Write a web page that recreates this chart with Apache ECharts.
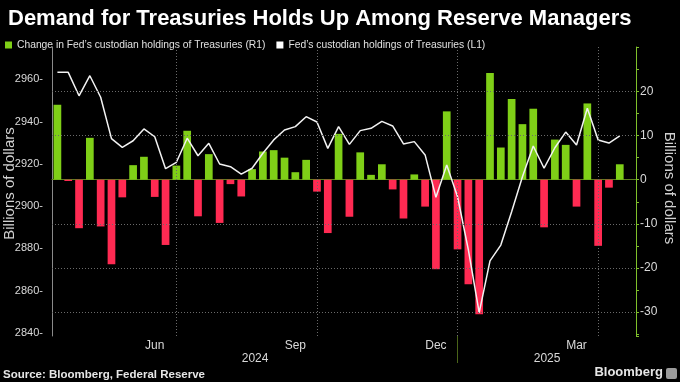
<!DOCTYPE html>
<html><head><meta charset="utf-8">
<script src="https://cdn.jsdelivr.net/npm/echarts@6/dist/echarts.min.js"></script>
<style>html,body{margin:0;padding:0;background:#000}#c{width:680px;height:382px}</style>
</head><body><div id="c"></div>
<script>
// Weekly observation dates (last entry is an empty padding slot on the right)
const weeks = ['2024-04-17','2024-04-24','2024-05-01','2024-05-08','2024-05-15','2024-05-22','2024-05-29','2024-06-05','2024-06-12','2024-06-19','2024-06-26','2024-07-03','2024-07-10','2024-07-17','2024-07-24','2024-07-31','2024-08-07','2024-08-14','2024-08-21','2024-08-28','2024-09-04','2024-09-11','2024-09-18','2024-09-25','2024-10-02','2024-10-09','2024-10-16','2024-10-23','2024-10-30','2024-11-06','2024-11-13','2024-11-20','2024-11-27','2024-12-04','2024-12-11','2024-12-18','2024-12-25','2025-01-01','2025-01-08','2025-01-15','2025-01-22','2025-01-29','2025-02-05','2025-02-12','2025-02-19','2025-02-26','2025-03-05','2025-03-12','2025-03-19','2025-03-26','2025-04-02','2025-04-09','2025-04-16','2025-04-23'];
// Change in Fed's custodian holdings of Treasuries (R1), billions
const changes = [17.0,-0.3,-11.0,9.5,-10.6,-19.2,-4.0,3.3,5.2,-3.9,-14.8,3.2,11.1,-8.3,5.8,-9.8,-1.0,-3.8,2.4,6.4,6.7,5.0,1.7,4.5,-2.7,-12.1,10.4,-8.4,6.2,1.1,3.5,-2.2,-8.8,1.2,-6.1,-20.3,15.5,-15.8,-23.7,-30.5,24.2,7.3,18.3,12.6,16.1,-10.8,9.1,7.9,-6.1,17.3,-15.0,-1.8,3.5];
// Fed's custodian holdings of Treasuries (L1), billions
const holdings = [2963.3,2963.3,2952.2,2961.7,2951.5,2931.9,2927.8,2930.9,2936.5,2932.8,2917.7,2920.7,2932.1,2923.8,2929.7,2919.9,2918.6,2915.1,2917.9,2925.0,2931.3,2936.0,2937.6,2942.3,2939.8,2927.3,2937.6,2929.2,2935.7,2936.8,2940.1,2937.9,2929.4,2930.5,2924.2,2904.1,2919.4,2904.4,2879.2,2849.5,2874.0,2881.5,2897.3,2913.9,2928.4,2917.9,2927.6,2935.0,2928.9,2946.3,2931.3,2929.8,2933.2];
const monthLabels = ['Jun','Sep','Dec','Mar'];
const yearLabels = ['2024','2025'];
const leftTicks = [2840,2860,2880,2900,2920,2940,2960];
const rightTicks = [-30,-20,-10,0,10,20];
const gridValues = [20,10,-10,-20,-30];

const FONT = "'Liberation Sans', Arial, sans-serif";
const NARROW = "'Liberation Sans Narrow', 'Arial Narrow', 'Liberation Sans', sans-serif";
const GREEN = '#7fcf17', RED = '#ff2a52';
const MN = {Jan:'01',Feb:'02',Mar:'03',Apr:'04',May:'05',Jun:'06',Jul:'07',Aug:'08',Sep:'09',Oct:'10',Nov:'11',Dec:'12'};
const mon = d => d.slice(5,7);
const isFirst = weeks.map((d,i) => i > 0 && mon(d) !== mon(weeks[i-1]));
const firstIdx = isFirst.map((f,i)=>f?i:-1).filter(i=>i>=0);
const labelIdx = {};
monthLabels.forEach(m => {
  const i1 = firstIdx.find(i => mon(weeks[i]) === MN[m]);
  const i2 = firstIdx.find(i => i > i1);
  labelIdx[Math.round((i1 + i2) / 2)] = m;
});
const quarterStarts = firstIdx.filter(i => ['01','04','07','10'].includes(mon(weeks[i])));
const yearStart = weeks.findIndex(d => d.slice(0,4) === yearLabels[1]);
const yearIdx = {};
yearIdx[Math.floor((yearStart - 0.5) / 2)] = yearLabels[0];
yearIdx[Math.floor((yearStart + weeks.length - 0.5) / 2)] = yearLabels[1];

const near = (v, arr) => arr.some(t => Math.abs(v - t) < 1e-6);

const chart = echarts.init(document.getElementById('c'));
chart.setOption({
  backgroundColor: '#000',
  animation: false,
  title: {
    text: 'Demand for Treasuries Holds Up Among Reserve Managers',
    left: 3, top: 3,
    textStyle: {color: '#fff', fontFamily: FONT, fontWeight: 'bold', fontSize: 22}
  },
  legend: {
    left: 5, top: 40, padding: 0, itemWidth: 7, itemHeight: 7, itemGap: 11,
    textStyle: {color: '#e0e0e0', fontFamily: FONT, fontSize: 10.3},
    data: [
      {name: "Change in Fed’s custodian holdings of Treasuries (R1)", icon: 'rect', itemStyle: {color: GREEN}},
      {name: "Fed’s custodian holdings of Treasuries (L1)", icon: 'rect', itemStyle: {color: '#fff'}}
    ]
  },
  grid: {left: 52, right: 44, top: 47, bottom: 46, outerBoundsMode: 'none', containLabel: false},
  xAxis: [{
    type: 'category', data: weeks, boundaryGap: true,
    axisLine: {lineStyle: {color: '#5e7f1f'}},
    axisTick: {alignWithLabel: true, length: 3, interval: (i) => isFirst[i], lineStyle: {color: '#5e7f1f'}},
    axisLabel: {interval: (i) => labelIdx[i] !== undefined, formatter: (v, i) => labelIdx[i] || '',
      color: '#d9d9d9', fontFamily: FONT, fontSize: 12, margin: 4},
    splitLine: {show: false}
  }, {
    type: 'category', data: weeks, boundaryGap: true, position: 'bottom',
    axisLine: {show: false},
    axisTick: {show: true, alignWithLabel: true, length: 27, interval: (i) => i === yearStart, lineStyle: {color: '#4a6419'}},
    axisLabel: {interval: (i) => yearIdx[i] !== undefined, formatter: (v, i) => yearIdx[i] || '',
      color: '#d9d9d9', fontFamily: FONT, fontSize: 12, margin: 17, padding: [0,0,0,6]},
    splitLine: {show: false}
  }],
  yAxis: [{
    type: 'value', position: 'left', min: 2838.45, max: 2975.3, splitNumber: 7,
    name: 'Billions of dollars', nameLocation: 'middle', nameGap: 35, nameMoveOverlap: false,
    nameTextStyle: {color: '#d0d0d0', fontFamily: FONT, fontSize: 15, padding: [0,0,0,16]},
    axisLine: {show: true, onZero: false, lineStyle: {color: '#8a8a8a'}},
    axisTick: {show: false},
    axisLabel: {color: '#d9d9d9', fontFamily: NARROW, fontSize: 11, margin: 9,
      formatter: v => near(v, leftTicks) ? Math.round(v) + '-' : ''},
    splitLine: {show: false}
  }, {
    type: 'value', position: 'right', min: -35.45, max: 30.1, splitNumber: 13,
    name: 'Billions of dollars', nameLocation: 'middle', nameGap: 26, nameRotate: -90, nameMoveOverlap: false,
    nameTextStyle: {color: '#d0d0d0', fontFamily: FONT, fontSize: 15, padding: [0,7,0,0]},
    axisLine: {show: true, onZero: false, lineStyle: {color: '#7fc02a'}},
    axisTick: {show: true, length: 3, lineStyle: {color: '#7fc02a'}},
    axisLabel: {color: '#d9d9d9', fontFamily: FONT, fontSize: 12, margin: 4,
      formatter: v => near(v, rightTicks) ? String(Math.round(v)) : ''},
    splitLine: {show: false}
  }],
  graphic: [
    {type: 'text', left: 3, top: 369, style: {text: 'Source: Bloomberg, Federal Reserve', fill: '#e6e6e6', font: "bold 11.5px 'Liberation Sans', Arial, sans-serif"}},
    {type: 'text', right: 17, top: 366, style: {text: 'Bloomberg', fill: '#e6e6e6', font: "bold 13px 'Liberation Sans', Arial, sans-serif"}},
    {type: 'rect', right: 3, top: 368, shape: {width: 11, height: 11, r: 2}, style: {fill: '#9a9a9a'}}
  ],
  series: [{
    name: "Change in Fed’s custodian holdings of Treasuries (R1)",
    type: 'bar', yAxisIndex: 1, xAxisIndex: 0, barWidth: 7.7,
    data: changes,
    itemStyle: {color: p => p.value >= 0 ? GREEN : RED},
    markLine: {
      silent: true, symbol: 'none', label: {show: false}, animation: false,
      lineStyle: {color: '#6a6a6a', type: [1, 2], width: 1},
      data: gridValues.map(v => ({yAxis: v})).concat(quarterStarts.map(i => ({xAxis: weeks[i]})))
    },
    z: 3
  }, {
    name: "Fed’s custodian holdings of Treasuries (L1)",
    type: 'line', yAxisIndex: 0, xAxisIndex: 0, data: holdings,
    symbol: 'none', lineStyle: {color: '#f2f2f2', width: 1.5}, itemStyle: {color: '#fff'}, z: 4
  }]
});
</script></body></html>
